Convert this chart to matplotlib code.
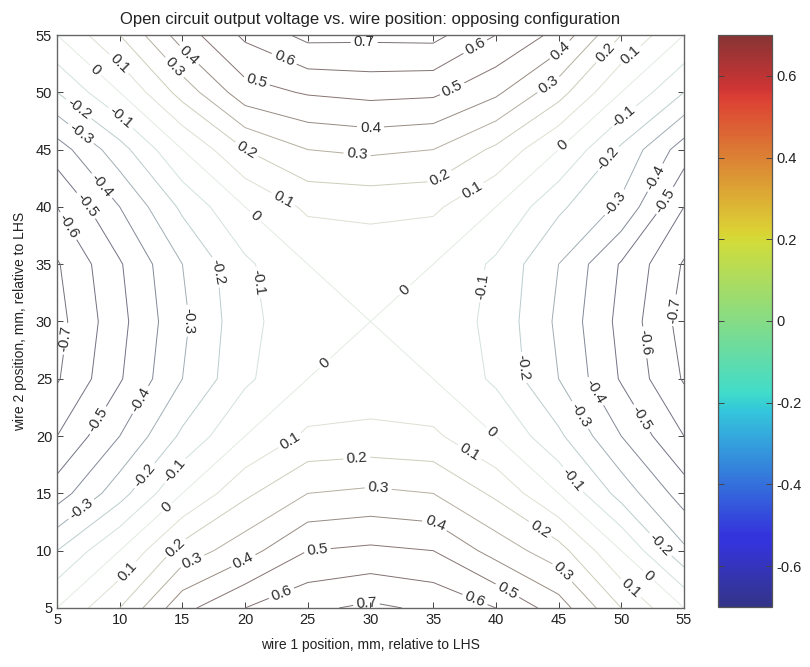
import numpy as np
import matplotlib
matplotlib.use("Agg")
import matplotlib.pyplot as plt
from matplotlib.colors import Normalize, ListedColormap
from matplotlib.cm import ScalarMappable
from matplotlib.ticker import FuncFormatter

plt.rcParams['font.family'] = ['Liberation Sans', 'DejaVu Sans']
plt.rcParams['axes.unicode_minus'] = False

# ---------------- data ----------------
wire1_mm = [5, 10, 15, 20, 25, 30, 35, 40, 45, 50, 55]
wire2_mm = [5, 10, 15, 20, 25, 30, 35, 40, 45, 50, 55]
# rows: wire 2 position (5 .. 55), columns: wire 1 position (5 .. 55)
voltage = [
    [0.00, 0.20, 0.47, 0.60, 0.68, 0.72, 0.68, 0.60, 0.45, 0.20, 0.00],
    [-0.20, 0.00, 0.24, 0.36, 0.50, 0.52, 0.50, 0.36, 0.24, 0.00, -0.28],
    [-0.45, -0.24, 0.00, 0.18, 0.30, 0.32, 0.30, 0.18, 0.00, -0.24, -0.45],
    [-0.60, -0.40, -0.18, 0.00, 0.12, 0.13, 0.12, 0.00, -0.18, -0.40, -0.60],
    [-0.71, -0.51, -0.30, -0.12, 0.00, 0.03, 0.00, -0.12, -0.30, -0.51, -0.71],
    [-0.735, -0.53, -0.32, -0.13, -0.03, 0.00, -0.03, -0.13, -0.32, -0.53, -0.74],
    [-0.71, -0.51, -0.30, -0.12, 0.00, 0.03, 0.00, -0.12, -0.30, -0.51, -0.71],
    [-0.60, -0.40, -0.18, 0.00, 0.12, 0.13, 0.12, 0.00, -0.18, -0.32, -0.60],
    [-0.45, -0.24, 0.00, 0.20, 0.30, 0.32, 0.30, 0.18, 0.00, -0.22, -0.45],
    [-0.20, 0.00, 0.24, 0.46, 0.51, 0.53, 0.52, 0.42, 0.24, 0.00, -0.20],
    [0.00, 0.20, 0.45, 0.62, 0.73, 0.725, 0.73, 0.60, 0.47, 0.20, 0.00],
]
contour_levels = [-0.7, -0.6, -0.5, -0.4, -0.3, -0.2, -0.1, 0.0,
                  0.1, 0.2, 0.3, 0.4, 0.5, 0.6, 0.7]
cbar_ticks = [-0.6, -0.4, -0.2, 0.0, 0.2, 0.4, 0.6]
x_ticks = [5, 10, 15, 20, 25, 30, 35, 40, 45, 50, 55]
y_ticks = [5, 10, 15, 20, 25, 30, 35, 40, 45, 50, 55]
title_text = "Open circuit output voltage vs. wire position: opposing configuration"
xlabel_text = "wire 1 position, mm, relative to LHS"
ylabel_text = "wire 2 position, mm, relative to LHS"

# contour label placement (layout only): (x, y, level)
label_spots = [
    (7.9, 51.7, 0.0), (9.6, 52.1, 0.1), (14.0, 51.8, 0.3), (15.4, 53.1, 0.4),
    (22.8, 52.1, 0.6), (20.8, 50.5, 0.5), (29.5, 54.1, 0.7), (38.5, 53.7, 0.6),
    (36.7, 49.9, 0.5), (30.0, 46.4, 0.4), (28.9, 44.3, 0.3), (20.2, 45.2, 0.2),
    (35.4, 42.8, 0.2), (38.1, 41.5, 0.1), (22.9, 40.4, 0.1), (20.6, 38.9, 0.0),
    (45.3, 53.5, 0.4), (44.3, 50.5, 0.3), (49.1, 53.1, 0.2), (50.9, 53.1, 0.1),
    (45.5, 45.2, 0.0), (50.3, 47.8, -0.1), (49.3, 43.9, -0.2), (49.7, 40.2, -0.3),
    (52.8, 42.5, -0.4), (53.1, 40.8, -0.5), (54.1, 31.0, -0.7), (51.3, 28.1, -0.6),
    (42.7, 26.0, -0.2), (48.1, 24.0, -0.4), (46.5, 21.7, -0.3), (51.1, 21.2, -0.5),
    (45.9, 16.0, -0.1), (39.3, 19.9, 0.0), (37.7, 18.2, 0.1), (40.1, 32.9, -0.1),
    (32.9, 32.6, 0.0), (26.5, 26.2, 0.0), (17.2, 34.3, -0.2), (21.0, 33.4, -0.1),
    (15.8, 30.1, -0.3), (6.7, 48.5, -0.2), (9.8, 47.4, -0.1), (6.7, 46.1, -0.3),
    (8.3, 41.6, -0.4), (7.2, 40.0, -0.5), (6.0, 38.4, -0.6), (6.3, 28.4, -0.7),
    (8.7, 21.1, -0.5), (11.6, 23.2, -0.4), (11.6, 16.9, -0.2), (14.4, 17.0, -0.1),
    (6.8, 13.8, -0.3), (13.9, 13.6, 0.0), (10.7, 8.1, 0.1), (14.6, 10.1, 0.2),
    (16.0, 8.6, 0.3), (20.0, 8.8, 0.4), (25.8, 9.5, 0.5), (23.0, 6.0, 0.6),
    (29.7, 5.3, 0.7), (23.7, 19.4, 0.1), (28.9, 18.2, 0.2), (30.6, 15.3, 0.3),
    (35.0, 12.1, 0.4), (38.2, 5.4, 0.6), (40.7, 6.1, 0.5), (43.3, 11.5, 0.2),
    (44.9, 7.7, 0.3), (50.5, 6.4, 0.1), (52.0, 7.6, 0.0), (52.8, 10.2, -0.2),
]

# ---------------- colours ----------------
jet = plt.get_cmap('jet')(np.linspace(0, 1, 256))
muted = jet.copy()
muted[:, :3] = 0.66 * jet[:, :3] + 0.34 * 0.6
muted_cmap = ListedColormap(muted)
norm = Normalize(-0.7, 0.7)


def line_color(v):
    c = np.array(plt.get_cmap('jet')(norm(v))[:3])
    g = 0.92 - 0.44 * min(1.0, abs(v) / 0.45) ** 1.5
    col = 0.92 * g + 0.08 * c
    return tuple(np.clip(col, 0, 1))


# ---------------- figure ----------------
fig = plt.figure(figsize=(8.1, 6.67), dpi=100)
ax = fig.add_axes([0.0704, 0.0885, 0.774, 0.859])
ax.set_xlim(5, 55)
ax.set_ylim(5, 55)

X, Y = np.meshgrid(wire1_mm, wire2_mm)
Z = np.array(voltage)
cs = ax.contour(X, Y, Z, levels=contour_levels,
                colors=[line_color(v) for v in contour_levels],
                linewidths=0.7)


def fmt(v):
    return f"{v + 0.0:g}"


# set up label state for all levels, then place each label on its own level
cs.clabel(manual=[], inline=True, inline_spacing=3, fmt=fmt, fontsize=11,
          colors='#2e2e2e')
all_idx = list(cs.labelIndiceList)
all_lev = list(cs.labelLevelList)
lev_arr = np.asarray(cs.levels, dtype=float)
for (lx, ly, lv) in label_spots:
    idx = int(np.argmin(np.abs(lev_arr - lv)))
    lst = list(all_lev)
    lst[0] = all_lev[idx]
    cs.labelLevelList = lst
    cs.labelIndiceList = [idx]
    cs.add_label_near(lx, ly, inline=True, inline_spacing=3)
cs.labelLevelList = all_lev
cs.labelIndiceList = all_idx

ax.set_xticks(x_ticks)
ax.set_yticks(y_ticks)
ax.tick_params(direction='in', top=True, right=True, length=4, width=0.7,
               labelsize=10.5, colors='#444444', labelcolor='#222222')
for sp in ax.spines.values():
    sp.set_color('#666666')
    sp.set_linewidth(1.0)
ax.set_title(title_text, fontsize=12, color='#222222', pad=8)
ax.set_xlabel(xlabel_text, fontsize=10, color='#222222', labelpad=8)
ax.set_ylabel(ylabel_text, fontsize=10, color='#222222', labelpad=6)

cax = fig.add_axes([0.8864, 0.0900, 0.0667, 0.8575])
sm = ScalarMappable(norm=norm, cmap=muted_cmap)
cb = fig.colorbar(sm, cax=cax, ticks=cbar_ticks,
                  format=FuncFormatter(lambda v, p: f"{v + 0.0:g}"))
cb.outline.set_edgecolor('#555555')
cb.outline.set_linewidth(0.9)
cax.tick_params(direction='in', length=4, width=0.7, labelsize=10.5,
                colors='#444444', labelcolor='#222222', left=True)

fig.savefig('out.png', dpi=100)
